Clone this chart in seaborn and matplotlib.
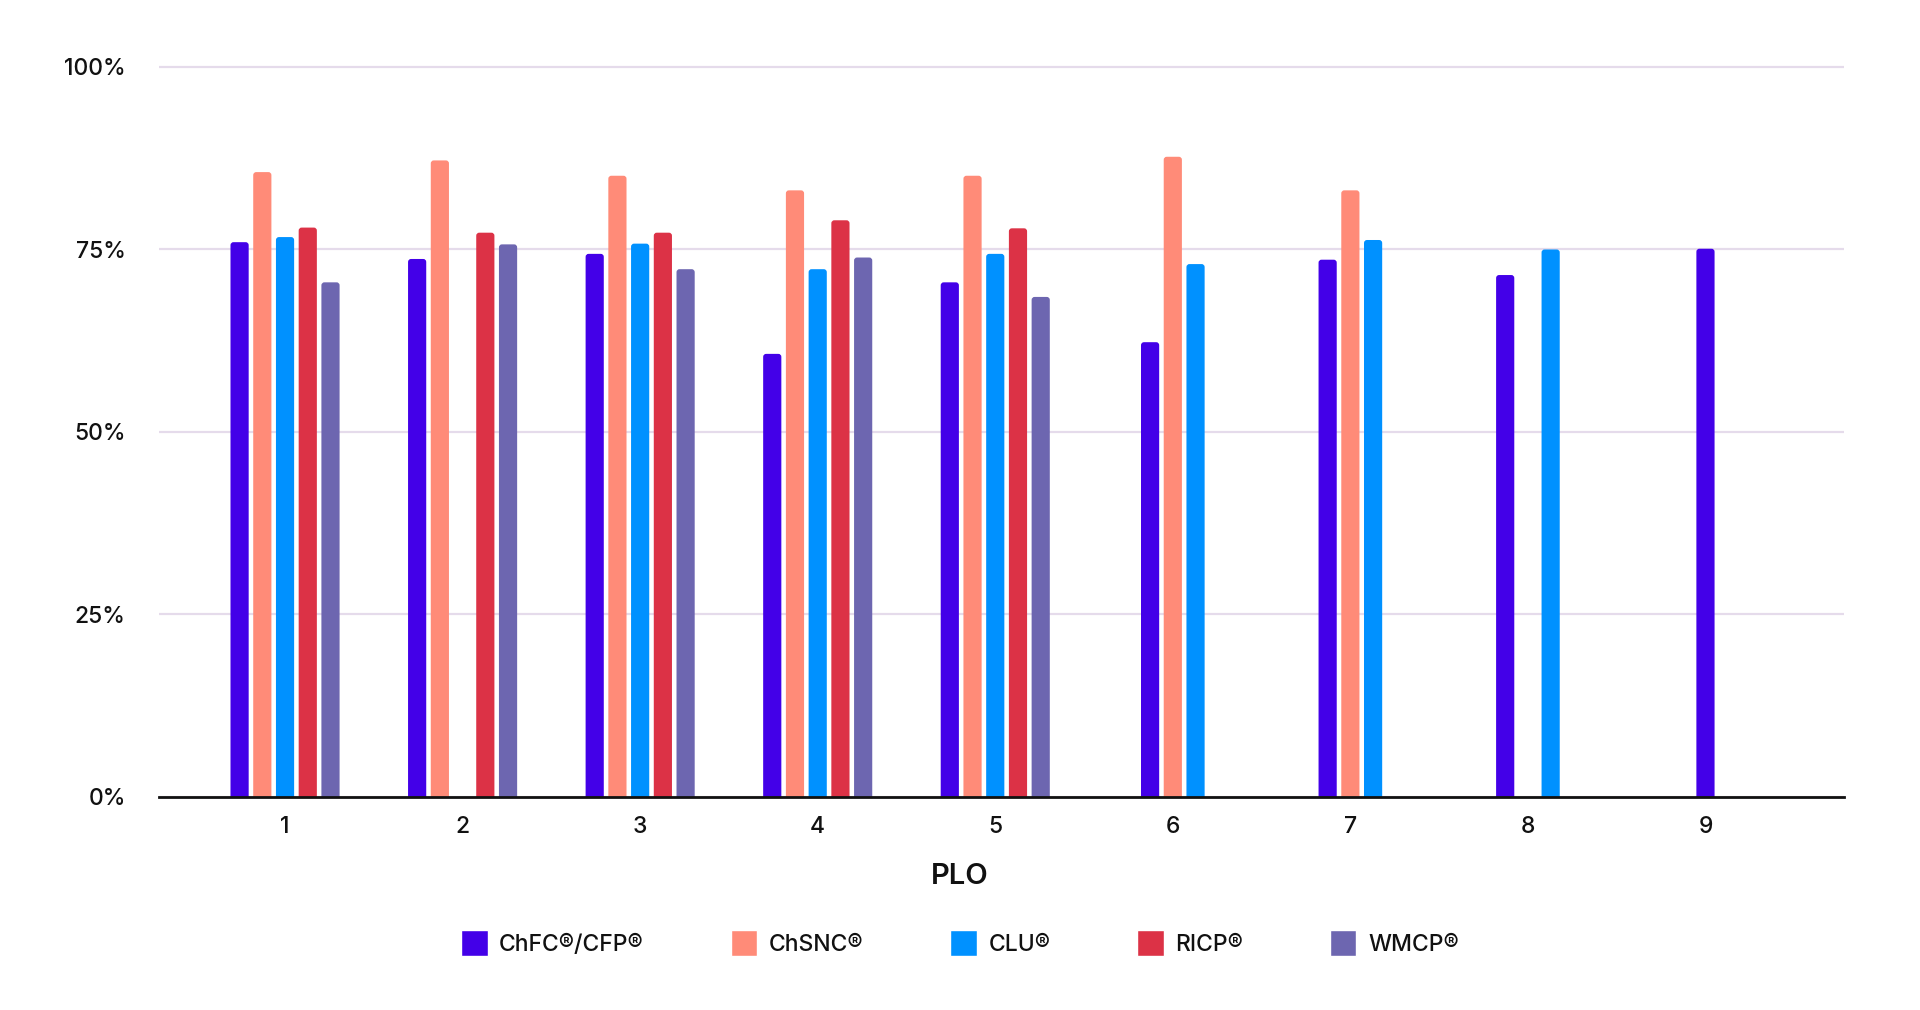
import numpy as np
import pandas as pd
import matplotlib
matplotlib.use("Agg")
import matplotlib.pyplot as plt
import seaborn as sns
from matplotlib.patches import FancyBboxPatch

# -----------------------------
# Data (in %)
# -----------------------------
plo_labels = ["1", "2", "3", "4", "5", "6", "7", "8", "9"]
series = ["ChFC®/CFP®", "ChSNC®", "CLU®", "RICP®", "WMCP®"]
colors = ["#4300e8", "#ff8b78", "#0091ff", "#dc3246", "#6d66b0"]

nan = np.nan
chfc = [76.0, 73.7, 74.4, 60.7, 70.5, 62.3, 73.6, 71.5, 75.1]
chsnc = [85.6, 87.2, 85.1, 83.1, 85.1, 87.7, 83.1, nan, nan]
clu = [76.7, nan, 75.8, 72.3, 74.4, 73.0, 76.3, 75.0, nan]
ricp = [78.0, 77.3, 77.3, 79.0, 77.9, nan, nan, nan, nan]
wmcp = [70.5, 75.7, 72.3, 73.9, 68.5, nan, nan, nan, nan]

values = [chfc, chsnc, clu, ricp, wmcp]

# -----------------------------
# Long table: each group keeps slots up to its last present series,
# centred on the group position
# -----------------------------
SLOT = 0.128
rows = []
for g in range(len(plo_labels)):
    present = [s for s in range(len(series)) if not np.isnan(values[s][g])]
    n_slots = max(present) + 1
    for s in present:
        rows.append({
            "x": g + (s - (n_slots - 1) / 2) * SLOT,
            "value": values[s][g],
            "series": series[s],
        })
df = pd.DataFrame(rows)

# -----------------------------
# Plot
# -----------------------------
sns.set_theme(style="white")
plt.rcParams["font.family"] = ["Inter", "DejaVu Sans"]

fig = plt.figure(figsize=(19.2, 10.1), dpi=100)
ax = fig.add_axes([0.0828, 0.2109, 0.9604 - 0.0828, 0.9373 - 0.2109])

sns.barplot(
    data=df,
    x="x",
    y="value",
    hue="series",
    hue_order=series,
    palette=colors,
    native_scale=True,
    dodge=False,
    width=0.8,
    saturation=1,
    errorbar=None,
    orient="x",
    ax=ax,
)

XLIM = (-0.71, 8.78)
YLIM = (0, 100.5)
ax.set_xlim(*XLIM)
ax.set_ylim(*YLIM)
ax.set_xticks(range(len(plo_labels)))
ax.set_xticklabels(plo_labels)
ax.set_yticks([0, 25, 50, 75, 100])
ax.set_yticklabels(["0%", "25%", "50%", "75%", "100%"])

# -----------------------------
# Rounded bar tops
# -----------------------------
bbox = ax.get_window_extent()
px_x = bbox.width / (XLIM[1] - XLIM[0])
px_y = bbox.height / (YLIM[1] - YLIM[0])
radius = 3.0 / px_x
aspect = px_x / px_y
for rect in list(ax.patches):
    x, w, h = rect.get_x(), rect.get_width(), rect.get_height()
    fc = rect.get_facecolor()
    rect.remove()
    ax.add_patch(FancyBboxPatch(
        (x, -2), w, h + 2,
        boxstyle=f"round,pad=0,rounding_size={radius}",
        mutation_aspect=aspect,
        facecolor=fc,
        edgecolor="none",
        zorder=2,
    ))

ax.yaxis.grid(True, color="#e5dbeb", linewidth=1.6)
ax.xaxis.grid(False)
ax.set_axisbelow(True)

for side in ["top", "right", "left"]:
    ax.spines[side].set_visible(False)
ax.spines["bottom"].set_color("#111111")
ax.spines["bottom"].set_linewidth(2.0)
ax.spines["bottom"].set_zorder(5)

ax.tick_params(axis="y", length=0, pad=24, labelsize=16.5, labelcolor="#111111")
ax.tick_params(axis="x", length=0, pad=14, labelsize=16.5, labelcolor="#111111")
for lbl in ax.get_xticklabels() + ax.get_yticklabels():
    lbl.set_fontweight("medium")

ax.set_ylabel("")
ax.set_xlabel("PLO", fontsize=21, fontweight="semibold", color="#111111")
ax.xaxis.set_label_coords(0.5, 1 - 877 / 1010, transform=fig.transFigure)
ax.xaxis.label.set_va("center")

sns.move_legend(
    ax,
    "center",
    bbox_to_anchor=(0.5, 0.0663),
    bbox_transform=fig.transFigure,
    ncol=5,
    frameon=False,
    title=None,
    fontsize=16.5,
    handlelength=1.15,
    handleheight=1.4,
    handletextpad=0.5,
    columnspacing=3.8,
)
for t in ax.get_legend().get_texts():
    t.set_fontweight("medium")
    t.set_color("#111111")

plt.savefig("out.png", dpi=100)
plt.close()
